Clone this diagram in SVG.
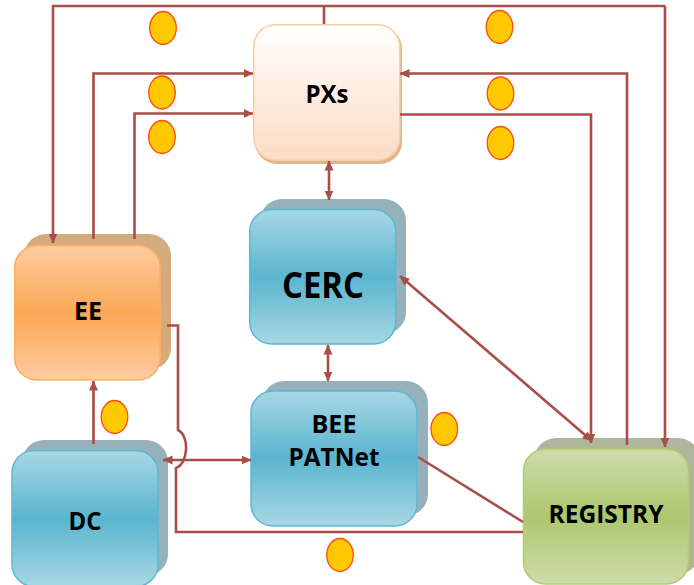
<svg xmlns="http://www.w3.org/2000/svg" width="694" height="585" viewBox="0 0 694 585">
<style>
.w{stroke:#A94E48;stroke-width:2.6;fill:none}
.d{fill:#FFC800;stroke:#FF4A12;stroke-width:1.3}
.t{font-family:"Open Sans","Liberation Sans",sans-serif;font-weight:700;fill:#000;text-anchor:middle}
.s{font-size:24.5px}
.blue{fill:url(#b);stroke:#5BB8D3;stroke-width:1.5}
.bs{fill:#94B1BC}
</style>
<defs>
<linearGradient id="b" x1="0" y1="0" x2="0" y2="1"><stop offset="0" stop-color="#A8D7E4"/><stop offset=".5" stop-color="#5AB5CF"/><stop offset="1" stop-color="#A8D7E4"/></linearGradient>
<linearGradient id="o" x1="0" y1="0" x2="0" y2="1"><stop offset="0" stop-color="#FDCCA0"/><stop offset=".5" stop-color="#FBA855"/><stop offset="1" stop-color="#FDCCA0"/></linearGradient>
<linearGradient id="g" x1="0" y1="0" x2="0" y2="1"><stop offset="0" stop-color="#CEDCAB"/><stop offset=".5" stop-color="#ACC76E"/><stop offset="1" stop-color="#CEDCAB"/></linearGradient>
<linearGradient id="p" x1="0" y1="0" x2="0" y2="1"><stop offset="0" stop-color="#FFFFFF"/><stop offset="1" stop-color="#FCDCC3"/></linearGradient>
<marker id="a" markerWidth="11" markerHeight="11" refX="9.500" refY="5" orient="auto-start-reverse" markerUnits="userSpaceOnUse"><path d="M0,0.500L10,5L0,9.500Z" fill="#A94E48"/></marker>
</defs>
<g id="node-pxs">
<rect x="255" y="27" width="147" height="137" rx="22" fill="#DDB68F"/>
<rect x="253.700" y="24.700" width="146" height="135.500" rx="22" fill="url(#p)" stroke="#FCCDA3" stroke-width="1.500"/>
<text class="t s" x="327" y="103" textLength="43" lengthAdjust="spacingAndGlyphs">PXs</text>
</g>
<g id="node-cerc">
<rect class="bs" x="260" y="199" width="146" height="135" rx="22"/>
<rect class="blue" x="249.700" y="209.500" width="146" height="134.500" rx="22"/>
<text class="t" x="323" y="298" font-size="35" textLength="82" lengthAdjust="spacingAndGlyphs">CERC</text>
</g>
<g id="node-ee">
<rect x="24" y="234" width="147" height="136" rx="22" fill="#D3AB7D"/>
<rect x="14.700" y="245.500" width="145.500" height="134.500" rx="22" fill="url(#o)" stroke="#FBAE62" stroke-width="1.500"/>
<text class="t s" x="88" y="320" textLength="28" lengthAdjust="spacingAndGlyphs">EE</text>
</g>
<g id="node-dc">
<rect class="bs" x="22" y="440" width="146" height="136" rx="22"/>
<rect class="blue" x="12" y="450.500" width="146" height="136" rx="22"/>
<text class="t s" x="85" y="530" textLength="33" lengthAdjust="spacingAndGlyphs">DC</text>
</g>
<g id="node-bee">
<rect class="bs" x="262" y="381" width="166" height="135" rx="22"/>
<rect class="blue" x="251" y="391" width="166" height="135" rx="22"/>
<text class="t s" x="334" y="433" textLength="45" lengthAdjust="spacingAndGlyphs">BEE</text>
<text class="t s" x="334" y="466" textLength="91" lengthAdjust="spacingAndGlyphs">PATNet</text>
</g>
<g id="node-registry">
<rect x="534" y="438" width="166" height="136" fill="#AEB69B" rx="22"/>
<rect x="523.500" y="449" width="165" height="135" rx="22" fill="url(#g)" stroke="#B1CB76" stroke-width="1.500"/>
<text class="t s" x="606" y="523" textLength="115" lengthAdjust="spacingAndGlyphs">REGISTRY</text>
</g>
<g id="connectors">
<path class="w" d="M324,24V6"/>
<path class="w" d="M665,6H53V243" marker-end="url(#a)"/>
<path class="w" d="M665,6V447" marker-end="url(#a)"/>
<path class="w" d="M93.500,239V73.500H253" marker-end="url(#a)"/>
<path class="w" d="M134.500,239V113.500H253" marker-end="url(#a)"/>
<path class="w" d="M627,445V73.500H400" marker-end="url(#a)"/>
<path class="w" d="M400,114.500H591V443" marker-end="url(#a)"/>
<path class="w" d="M329,161V200" marker-start="url(#a)" marker-end="url(#a)"/>
<path class="w" d="M328,345V381" marker-start="url(#a)" marker-end="url(#a)"/>
<path class="w" d="M400,276L592,441" marker-start="url(#a)" marker-end="url(#a)"/>
<path class="w" d="M163,460H251" marker-start="url(#a)" marker-end="url(#a)"/>
<path class="w" d="M93.500,444V381" marker-end="url(#a)"/>
<path class="w" d="M167,325.500H178V430C190,436 188,464 176,468V532H523"/>
<path class="w" d="M418,457L523,522"/>
</g>
<g id="markers">
<ellipse class="d" cx="163" cy="28" rx="13.300" ry="16.500"/>
<ellipse class="d" cx="162" cy="92.500" rx="13.300" ry="16.500"/>
<ellipse class="d" cx="162" cy="137" rx="13.300" ry="16.500"/>
<ellipse class="d" cx="499.500" cy="27" rx="13.300" ry="16.500"/>
<ellipse class="d" cx="500.500" cy="93.500" rx="13.300" ry="16.500"/>
<ellipse class="d" cx="500.500" cy="143" rx="13.300" ry="16.500"/>
<ellipse class="d" cx="114.500" cy="417" rx="13.300" ry="16.500"/>
<ellipse class="d" cx="444.300" cy="429" rx="13.300" ry="16.500"/>
<ellipse class="d" cx="340" cy="555" rx="13.300" ry="16.500"/>
</g>
</svg>
